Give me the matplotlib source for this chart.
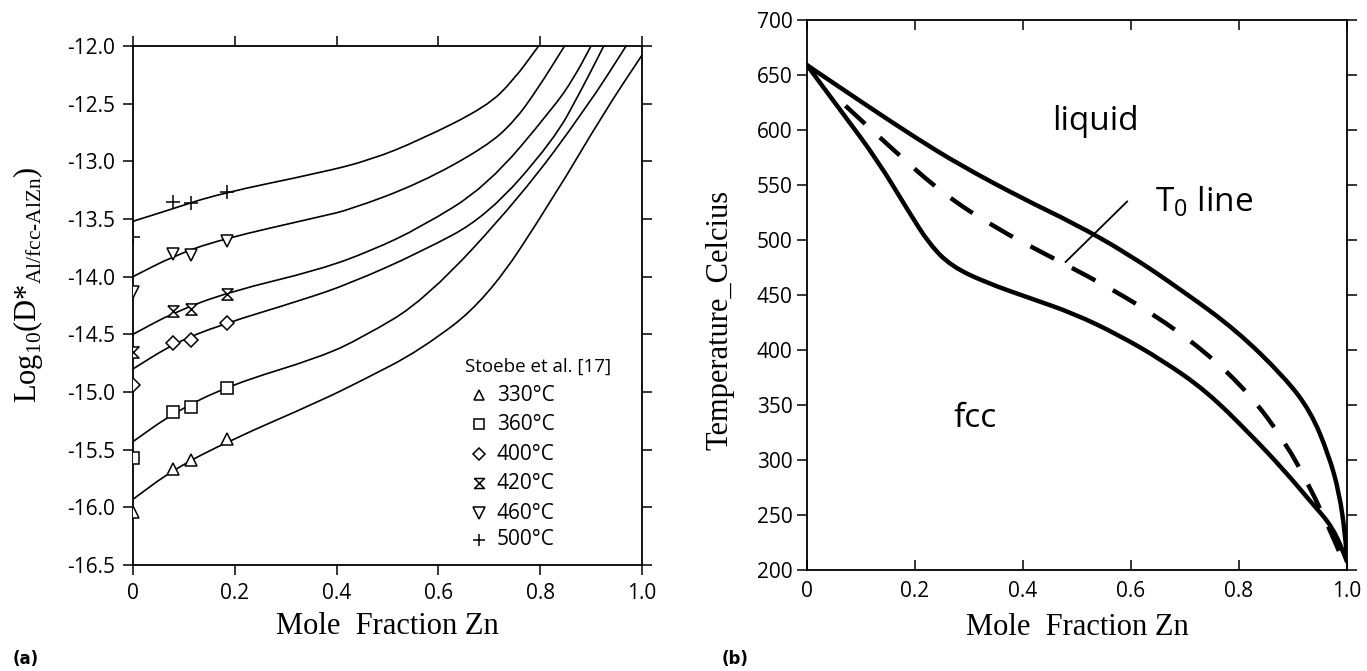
import numpy as np
import matplotlib
matplotlib.use("Agg")
from matplotlib import pyplot as plt
from matplotlib.path import Path
from matplotlib.patches import PathPatch

plt.rcParams['axes.unicode_minus'] = False
plt.rcParams['font.family'] = ['Open Sans', 'DejaVu Sans']
plt.rcParams['mathtext.fontset'] = 'custom'
plt.rcParams['mathtext.rm'] = 'Liberation Serif'
plt.rcParams['mathtext.sf'] = 'Open Sans'

# ---------------- panel (a): log10 D* vs mole fraction Zn ----------------
curve_x_330 = [0, 0.08, 0.19, 0.367, 0.45, 0.564, 0.695, 0.827, 0.925, 1.0]
curve_y_330 = [-15.93, -15.67, -15.42, -15.08, -14.9, -14.64, -14.2, -13.31, -12.58, -12.08]
curve_x_360 = [0, 0.08, 0.19, 0.367, 0.45, 0.575, 0.761, 0.892, 0.969]
curve_y_360 = [-15.43, -15.18, -14.94, -14.70, -14.53, -14.2, -13.31, -12.53, -12.0]
curve_x_400 = [0, 0.08, 0.17, 0.334, 0.426, 0.564, 0.695, 0.827, 0.88, 0.925]
curve_y_400 = [-14.8, -14.58, -14.42, -14.2, -14.06, -13.79, -13.48, -12.815, -12.39, -12.0]
curve_x_420 = [0, 0.08, 0.19, 0.367, 0.471, 0.564, 0.695, 0.827, 0.866, 0.9]
curve_y_420 = [-14.5, -14.31, -14.13, -13.94, -13.77, -13.575, -13.22, -12.53, -12.28, -12.0]
curve_x_460 = [0, 0.08, 0.17, 0.367, 0.426, 0.564, 0.695, 0.75, 0.794, 0.848]
curve_y_460 = [-14.0, -13.82, -13.68, -13.48, -13.42, -13.19, -12.87, -12.65, -12.38, -12.0]
curve_x_500 = [0, 0.072, 0.17, 0.367, 0.466, 0.564, 0.695, 0.748, 0.797]
curve_y_500 = [-13.52, -13.42, -13.28, -13.1, -12.99, -12.815, -12.526, -12.295, -12.0]

# Stoebe et al. measurements
meas_x = [0.0, 0.079, 0.114, 0.185]
meas_330 = [-16.04, -15.665, -15.59, -15.41]
meas_360 = [-15.57, -15.175, -15.128, -14.963]
meas_400 = [-14.94, -14.573, -14.55, -14.40]
meas_420 = [-14.655, -14.30, -14.28, -14.15]
meas_460 = [-14.13, -13.80, -13.81, -13.69]
meas_500 = [-13.66, -13.35, -13.364, -13.27]
legend_labels = ['330°C', '360°C', '400°C', '420°C', '460°C', '500°C']

# ---------------- panel (b): Al-Zn phase boundaries ----------------
liq_x = [0, 0.1055, 0.201, 0.284, 0.398, 0.495, 0.593, 0.698, 0.795, 0.885, 0.933, 0.966, 0.986, 0.997, 1.0]
liq_T = [659, 624, 593, 568, 538, 515, 488, 453, 418, 375, 344, 305, 270, 231, 208]
sol_x = [0, 0.065, 0.13, 0.187, 0.227, 0.268, 0.333, 0.414, 0.495, 0.576, 0.657, 0.739, 0.82, 0.885, 0.933, 0.974, 1.0]
sol_T = [659, 616, 573, 527, 496, 476, 461, 447, 433, 414, 391, 363, 324, 290, 262, 239, 208]
t0_x = [0.0714, 0.162, 0.252, 0.349, 0.446, 0.544, 0.641, 0.739, 0.82, 0.885, 0.933, 0.966, 0.99]
t0_T = [622, 581, 542, 511, 486, 461, 433, 398, 360, 317, 274, 239, 212]

xticks = [0, 0.2, 0.4, 0.6, 0.8, 1.0]
xticklabels = ['0', '0.2', '0.4', '0.6', '0.8', '1.0']


def smooth_curve(ax, xs, ys, **kw):
    # quadratic bezier through the midpoints, corners at the read points
    pts = np.column_stack([xs, ys]).astype(float)
    mids = (pts[:-1] + pts[1:]) / 2
    verts = [pts[0], mids[0]]
    codes = [Path.MOVETO, Path.LINETO]
    for i in range(1, len(pts) - 1):
        verts += [pts[i], mids[i]]
        codes += [Path.CURVE3, Path.CURVE3]
    verts.append(pts[-1])
    codes.append(Path.LINETO)
    patch = PathPatch(Path(verts, codes), fill=False, **kw)
    ax.add_patch(patch)
    return patch


fig = plt.figure(figsize=(13.67, 6.71), dpi=100)
ax1 = fig.add_axes([0.0973, 0.158, 0.3723, 0.7735])
ax2 = fig.add_axes([0.5903, 0.1505, 0.395, 0.8197])

serif = 'Liberation Serif'

# panel (a)
curves = [
    (curve_x_330, curve_y_330), (curve_x_360, curve_y_360),
    (curve_x_400, curve_y_400), (curve_x_420, curve_y_420),
    (curve_x_460, curve_y_460), (curve_x_500, curve_y_500),
]
for cx, cy in curves:
    smooth_curve(ax1, cx, cy, edgecolor='black', lw=1.2)

hourglass = [(-1, 1), (1, 1), (-1, -1), (1, -1), (-1, 1)]
markers = ['^', 's', 'D', hourglass, 'v', '+']
sizes = [8, 8, 7, 8, 9, 10]
meas = [meas_330, meas_360, meas_400, meas_420, meas_460, meas_500]
for m, ms, vals, lab in zip(markers, sizes, meas, legend_labels):
    ax1.plot(meas_x, vals, linestyle='none', marker=m, ms=ms,
             mfc='white', mec='black', mew=1.1, label=lab, zorder=3)

ax1.set_xlim(0, 1.0)
ax1.set_ylim(-16.5, -12.0)
ax1.set_xticks(xticks)
ax1.set_xticklabels(xticklabels)
ax1.set_yticks(np.arange(-16.5, -11.99, 0.5))
ax1.set_yticklabels([f'{v:.1f}' for v in np.arange(-16.5, -11.99, 0.5)])
ax1.tick_params(direction='out', length=7, width=1.1, labelsize=15,
                top=True, right=True, pad=6)
for s in ax1.spines.values():
    s.set_linewidth(1.3)
ax1.set_xlabel('Mole  Fraction Zn', family=serif, fontsize=22, labelpad=6)
ax1.set_ylabel(r'Log$_{10}$(D*$_{\mathrm{Al/fcc}\text{-}\mathrm{AlZn}}$)',
               family=serif, fontsize=22)
ax1.yaxis.set_label_coords(-0.172, 0.54)

ax1.text(0.653, -14.78, 'Stoebe et al. [17]', fontsize=13.5, va='center')
leg_y = [-15.03, -15.28, -15.54, -15.79, -16.05, -16.28]
for m, ms, lab, ly in zip(markers, sizes, legend_labels, leg_y):
    ax1.plot([0.679], [ly], linestyle='none', marker=m, ms=ms * 0.9,
             mfc='white', mec='black', mew=1.1)
    ax1.text(0.715, ly, lab, fontsize=15, va='center')

# panel (b)
smooth_curve(ax2, liq_x, liq_T, edgecolor='black', lw=3.2, capstyle='round')
smooth_curve(ax2, sol_x, sol_T, edgecolor='black', lw=3.2, capstyle='round')
smooth_curve(ax2, t0_x, t0_T, edgecolor='black', lw=3.2, linestyle=(0, (6, 4.5)))
ax2.plot([0.479, 0.593], [480, 535], color='black', lw=1.3)

ax2.text(0.455, 608, 'liquid', fontsize=24, va='center')
ax2.text(0.645, 535, r'T$_{\mathsf{0}}$ line', fontsize=24, va='center')
ax2.text(0.272, 338, 'fcc', fontsize=24, va='center')

ax2.set_xlim(0, 1.0)
ax2.set_ylim(200, 700)
ax2.set_xticks(xticks)
ax2.set_xticklabels(xticklabels)
ax2.set_yticks(np.arange(200, 701, 50))
ax2.tick_params(axis='y', which='both', left=True, right=True, direction='out',
                length=7, width=1.1, labelsize=15)
ax2.tick_params(axis='x', which='both', top=True, bottom=True, direction='in',
                length=7, width=1.1, labelsize=15, pad=8)
for s in ax2.spines.values():
    s.set_linewidth(1.3)
ax2.set_xlabel('Mole  Fraction Zn', family=serif, fontsize=22, labelpad=8)
ax2.set_ylabel('Temperature_Celcius', family=serif, fontsize=22)
ax2.yaxis.set_label_coords(-0.135, 0.455)

fig.text(0.009, 0.01, '(a)', fontsize=12, fontweight='bold', family='DejaVu Sans')
fig.text(0.528, 0.01, '(b)', fontsize=12, fontweight='bold', family='DejaVu Sans')

fig.savefig('out.png', dpi=100)
